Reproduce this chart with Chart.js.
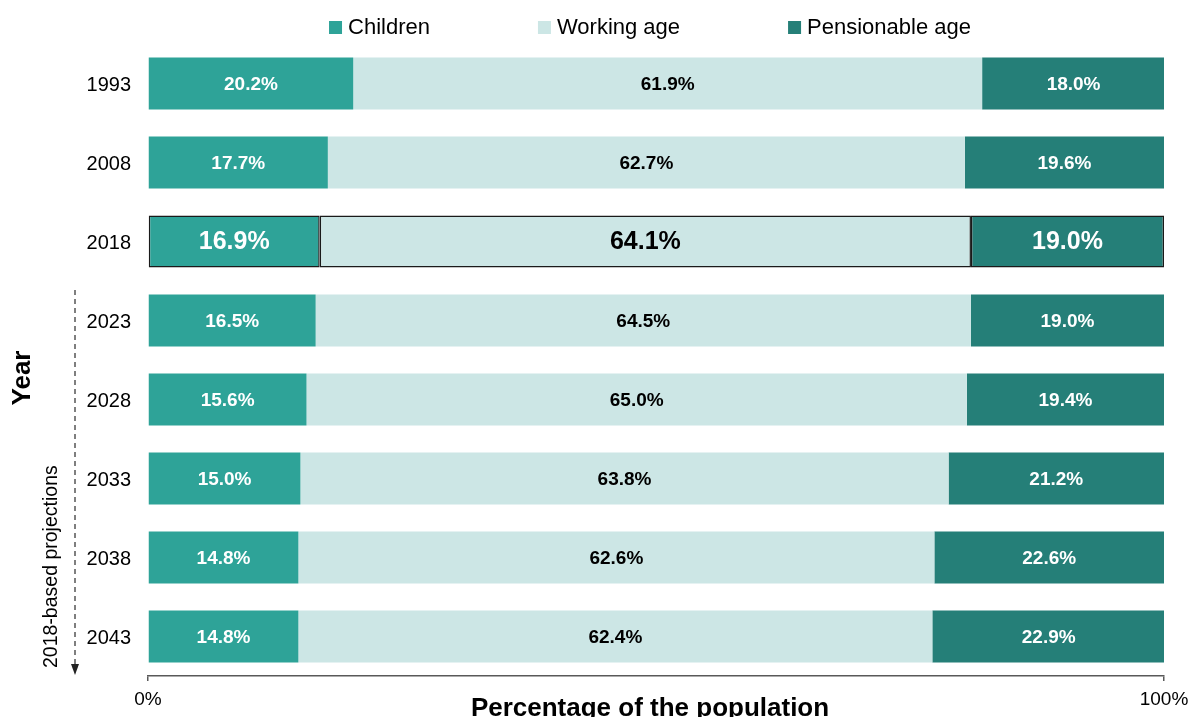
<!DOCTYPE html>
<html>
<head>
<meta charset="utf-8">
<script src="https://cdn.jsdelivr.net/npm/chart.js@4/dist/chart.umd.min.js"></script>
<style>
    body { margin: 0; background: #fff; overflow: hidden; }
</style>
</head>
<body>
<canvas id="chart" width="1197" height="717"></canvas>
<script>
    const years = ['1993', '2008', '2018', '2023', '2028', '2033', '2038', '2043'];
    const children = [20.2, 17.7, 16.9, 16.5, 15.6, 15.0, 14.8, 14.8];
    const workingAge = [61.9, 62.7, 64.1, 64.5, 65.0, 63.8, 62.6, 62.4];
    const pensionable = [18.0, 19.6, 19.0, 19.0, 19.4, 21.2, 22.6, 22.9];
    const xTicks = [0, 100];
    const highlightYear = '2018';
    const projectionStart = '2023';

    const FONT = '"Liberation Sans", Arial, sans-serif';
    const colors = ['#2ea398', '#cce6e5', '#257f78'];
    const labelColors = ['#ffffff', '#000000', '#ffffff'];

    function borderColors() {
        return years.map(y => y === highlightYear ? '#1a1a1a' : 'rgba(0,0,0,0)');
    }
    function borderWidths() {
        return years.map(y => y === highlightYear ? 1.5 : 0);
    }

    function makeDataset(label, data, i) {
        return {
            label: label,
            data: data,
            backgroundColor: colors[i],
            borderColor: borderColors(),
            borderWidth: borderWidths(),
            borderSkipped: false,
            barPercentage: 0.66,
            categoryPercentage: 1
        };
    }

    // labels inside the bars
    const barLabels = {
        id: 'barLabels',
        afterDatasetsDraw(chart) {
            const ctx = chart.ctx;
            ctx.save();
            ctx.textAlign = 'center';
            ctx.textBaseline = 'middle';
            chart.data.datasets.forEach((ds, i) => {
                const meta = chart.getDatasetMeta(i);
                meta.data.forEach((bar, j) => {
                    const big = years[j] === highlightYear;
                    const p = bar.getCenterPoint();
                    ctx.font = 'bold ' + (big ? 25 : 19) + 'px ' + FONT;
                    ctx.fillStyle = labelColors[i];
                    ctx.fillText(ds.data[j].toFixed(1) + '%', p.x, p.y + 1);
                });
            });
            ctx.restore();
        }
    };

    // legend, axis titles and the projections arrow
    const extras = {
        id: 'extras',
        afterDraw(chart) {
            const ctx = chart.ctx;
            const area = chart.chartArea;
            const yScale = chart.scales.y;
            ctx.save();

            // legend
            ctx.font = '22px ' + FONT;
            ctx.textBaseline = 'middle';
            ctx.textAlign = 'left';
            const box = 13, gap = 108;
            const items = chart.data.datasets.map(ds => ({ text: ds.label, color: ds.backgroundColor, w: box + 6 + ctx.measureText(ds.label).width }));
            const total = items.reduce((s, it) => s + it.w, 0) + gap * (items.length - 1);
            let x = (area.left + area.right) / 2 - 6 - total / 2;
            items.forEach(it => {
                ctx.fillStyle = it.color;
                ctx.fillRect(x, 21, box, box);
                ctx.fillStyle = '#000';
                ctx.fillText(it.text, x + box + 6, 28);
                x += it.w + gap;
            });

            // x axis title
            ctx.font = 'bold 26px ' + FONT;
            ctx.textAlign = 'center';
            ctx.fillText('Percentage of the population', (area.left + area.right) / 2 - 6, area.bottom + 33);

            // y axis title
            ctx.save();
            ctx.translate(23, 378);
            ctx.rotate(-Math.PI / 2);
            ctx.fillText('Year', 0, 0);
            ctx.restore();

            // projections text
            ctx.save();
            ctx.font = '19.5px ' + FONT;
            ctx.translate(52, area.bottom - 8);
            ctx.rotate(-Math.PI / 2);
            ctx.textAlign = 'left';
            ctx.fillText('2018-based projections', 0, 0);
            ctx.restore();

            // dashed arrow
            const idx = years.indexOf(projectionStart);
            const step = yScale.getPixelForValue(1) - yScale.getPixelForValue(0);
            const top = yScale.getPixelForValue(idx) - step / 2 + 9;
            const tip = area.bottom - 1;
            ctx.strokeStyle = '#555';
            ctx.fillStyle = '#222';
            ctx.lineWidth = 1.5;
            ctx.setLineDash([5, 4]);
            ctx.beginPath();
            ctx.moveTo(75, top);
            ctx.lineTo(75, tip - 10);
            ctx.stroke();
            ctx.setLineDash([]);
            ctx.beginPath();
            ctx.moveTo(71, tip - 11);
            ctx.lineTo(79, tip - 11);
            ctx.lineTo(75, tip);
            ctx.closePath();
            ctx.fill();

            ctx.restore();
        }
    };

    new Chart(document.getElementById('chart'), {
        type: 'bar',
        data: {
            labels: years,
            datasets: [
                makeDataset('Children', children, 0),
                makeDataset('Working age', workingAge, 1),
                makeDataset('Pensionable age', pensionable, 2)
            ]
        },
        options: {
            indexAxis: 'y',
            responsive: false,
            animation: false,
            layout: { padding: { top: 44, right: 33, left: 0, bottom: 0 } },
            plugins: {
                legend: { display: false },
                tooltip: { enabled: false }
            },
            scales: {
                x: {
                    stacked: true,
                    min: 0,
                    max: 100,
                    afterBuildTicks: scale => { scale.ticks = xTicks.map(v => ({ value: v })); },
                    afterFit: scale => { scale.height = 41; },
                    border: { display: true, color: '#595959', width: 1.5 },
                    grid: { drawOnChartArea: false, tickLength: 5, color: '#595959', lineWidth: 1.5 },
                    ticks: {
                        padding: 7,
                        color: '#000',
                        font: { size: 19, family: FONT },
                        maxRotation: 0,
                        callback: v => v + '%'
                    }
                },
                y: {
                    stacked: true,
                    afterFit: scale => { scale.width = 148; },
                    border: { display: false },
                    grid: { display: false, drawTicks: false },
                    ticks: {
                        padding: 17,
                        labelOffset: 2,
                        color: '#000',
                        font: { size: 20, family: FONT }
                    }
                }
            }
        },
        plugins: [barLabels, extras]
    });
</script>
</body>
</html>
